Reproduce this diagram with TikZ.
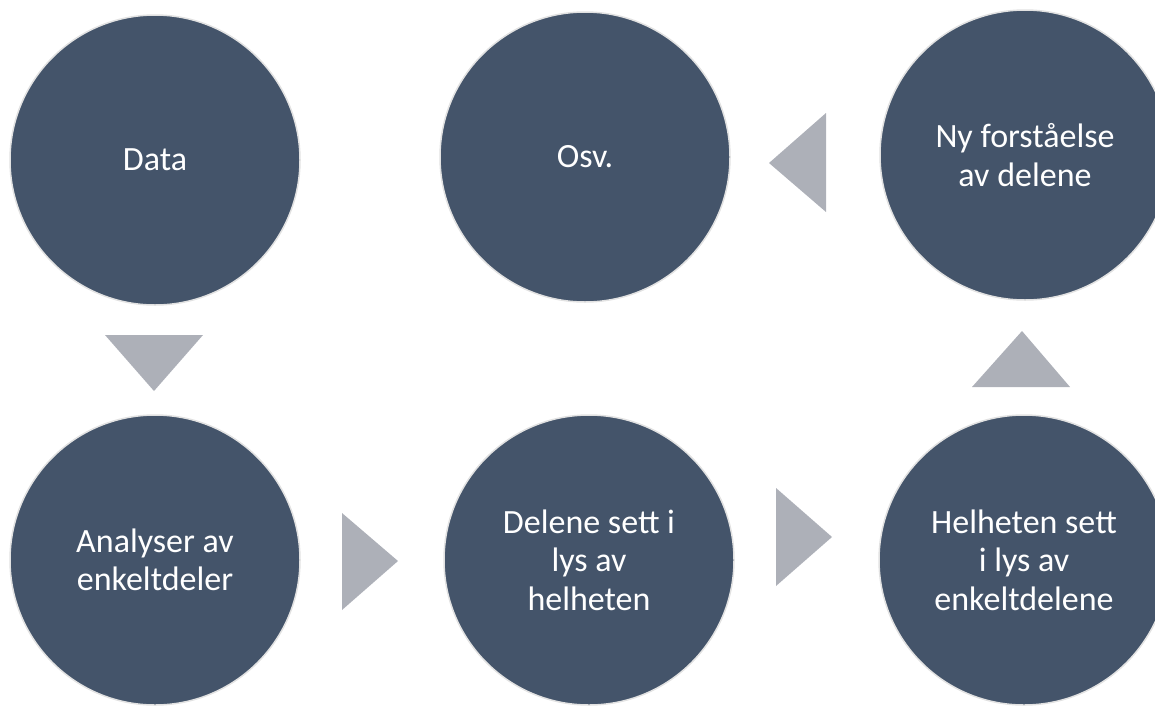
\documentclass[tikz,border=0pt]{standalone}
\usepackage{fontspec}
\setmainfont{Carlito}
\definecolor{circfill}{RGB}{68,84,106}
\definecolor{circline}{RGB}{226,226,226}
\definecolor{trifill}{RGB}{173,176,184}
\begin{document}
\begin{tikzpicture}[x=1pt,y=-1pt,
  stepcircle/.style={circle, minimum size=290pt, inner sep=0pt, fill=circfill,
    draw=circline, line width=1.5pt, text=white, align=center,
    font=\fontsize{34}{38.5}\selectfont},
  tri/.style={fill=trifill, draw=none}]
\useasboundingbox (0,0) rectangle (1155,707);
\node[stepcircle] (data) at (155,160) {Data};
\node[stepcircle] (osv) at (585,157) {Osv.};
\node[stepcircle] (ny) at (1025,155) {Ny forståelse\\av delene};
\node[stepcircle] (anal) at (155,560) {Analyser av\\enkeltdeler};
\node[stepcircle] (delene) at (589,560) {Delene sett i\\lys av\\helheten};
\node[stepcircle] (helhet) at (1024,560) {Helheten sett\\i lys av\\enkeltdelene};
% arrows (triangles)
\fill[tri] (105,335) -- (203,335) -- (154,391) -- cycle;
\fill[tri] (342,513) -- (342,610) -- (398,561) -- cycle;
\fill[tri] (776,488) -- (776,586) -- (832,537) -- cycle;
\fill[tri] (972,387) -- (1070,387) -- (1022,331) -- cycle;
\fill[tri] (826,113) -- (826,212) -- (769,163) -- cycle;
\end{tikzpicture}
\end{document}
